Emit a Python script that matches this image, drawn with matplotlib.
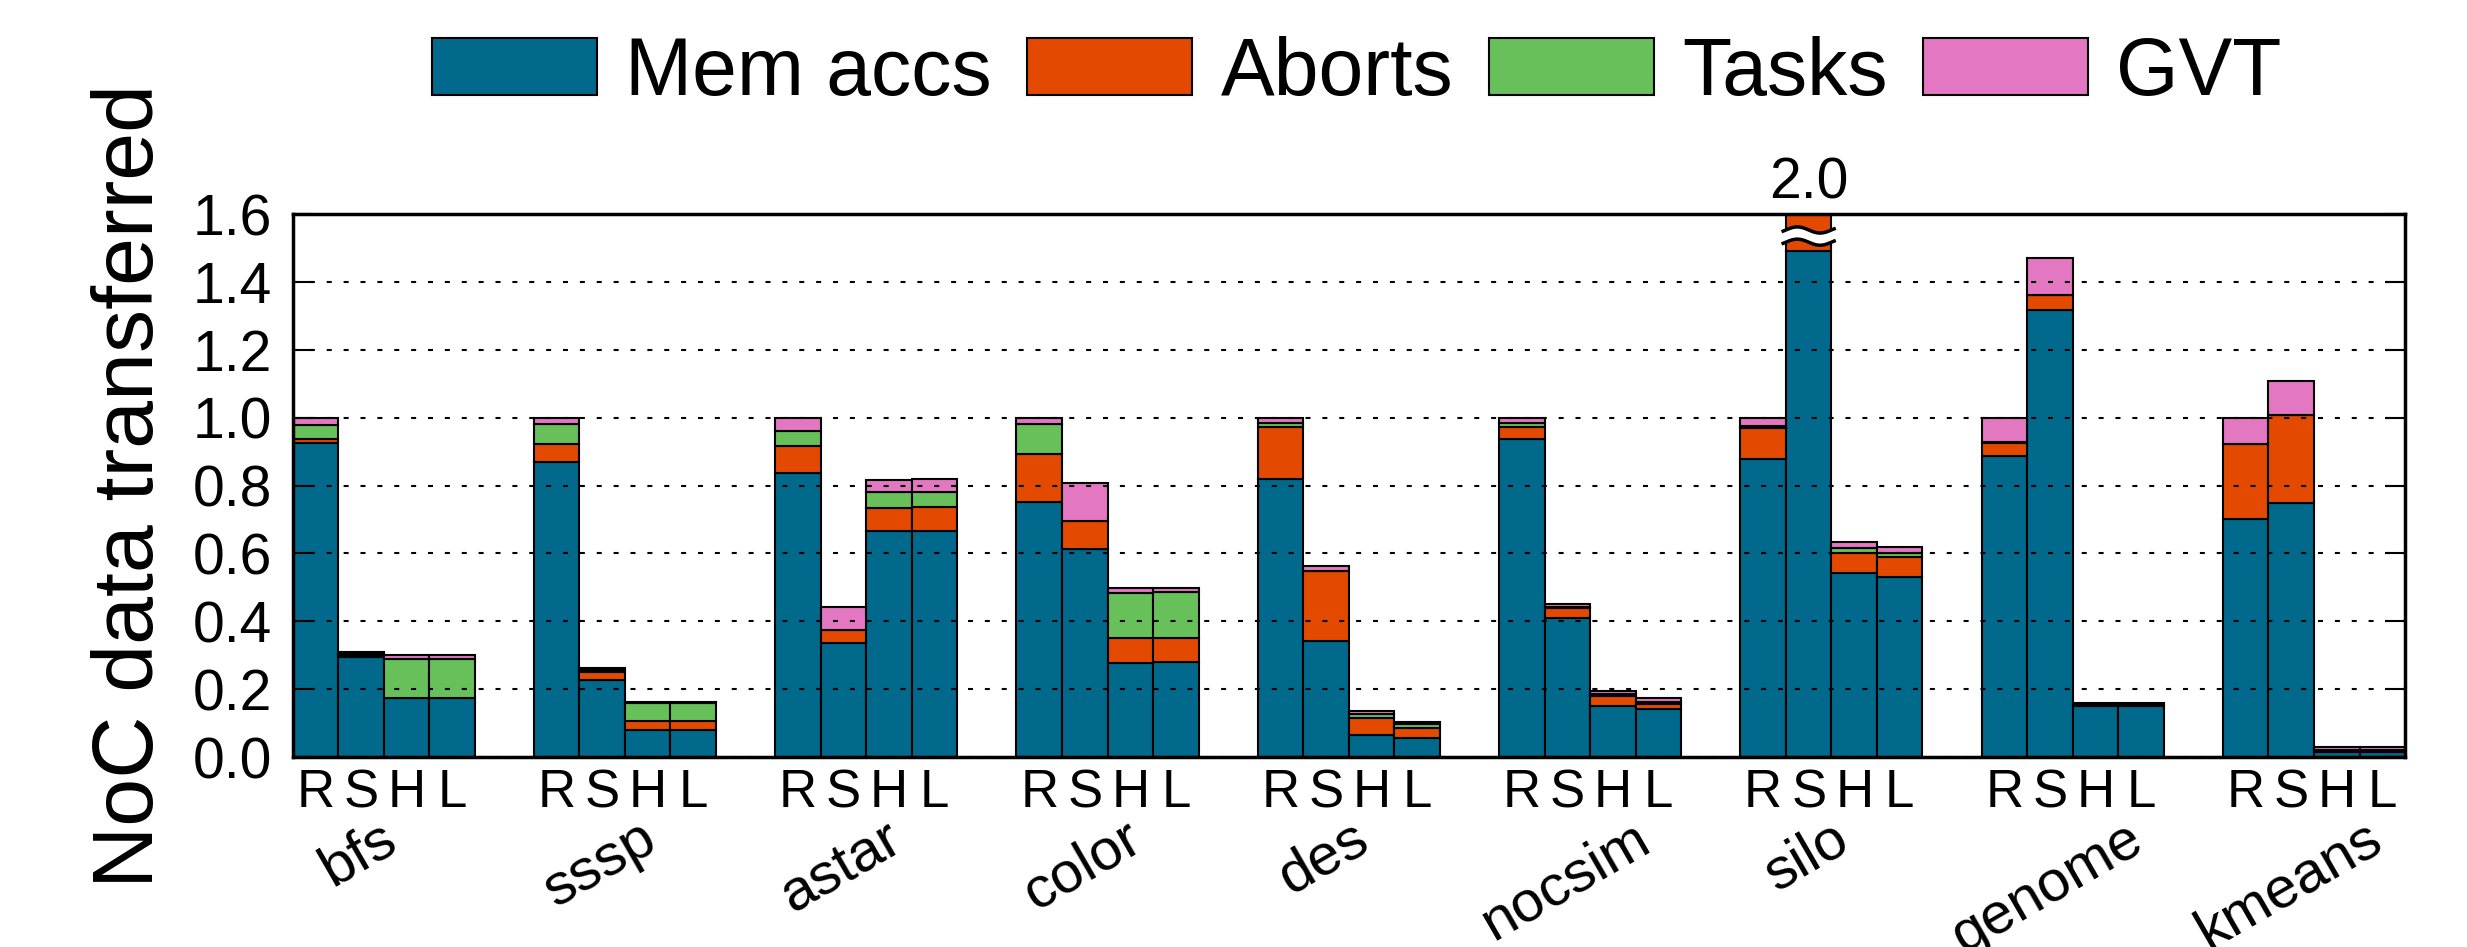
import numpy as np
import matplotlib
matplotlib.use('Agg')
import matplotlib.pyplot as plt
from matplotlib.transforms import blended_transform_factory

plt.rcParams['font.family'] = ['Liberation Sans', 'DejaVu Sans']

# Benchmarks and the four configurations shown under each group
benchmarks = ['bfs', 'sssp', 'astar', 'color', 'des', 'nocsim', 'silo', 'genome', 'kmeans']
configs = ['R', 'S', 'H', 'L']

# Values per benchmark, in R, S, H, L order
mem_accs = [
    [0.925, 0.294, 0.173, 0.173],
    [0.869, 0.227, 0.081, 0.081],
    [0.837, 0.336, 0.666, 0.666],
    [0.750, 0.614, 0.277, 0.280],
    [0.819, 0.341, 0.066, 0.057],
    [0.937, 0.411, 0.149, 0.142],
    [0.879, 1.490, 0.541, 0.531],
    [0.888, 1.316, 0.150, 0.150],
    [0.702, 0.749, 0.015, 0.015],
]
aborts = [
    [0.012, 0.006, 0.002, 0.002],
    [0.053, 0.025, 0.026, 0.026],
    [0.079, 0.037, 0.069, 0.071],
    [0.142, 0.082, 0.073, 0.070],
    [0.153, 0.206, 0.048, 0.028],
    [0.034, 0.028, 0.030, 0.015],
    [0.090, 0.510, 0.060, 0.058],
    [0.037, 0.045, 0.005, 0.005],
    [0.219, 0.259, 0.004, 0.004],
]
tasks = [
    [0.040, 0.003, 0.114, 0.114],
    [0.060, 0.003, 0.052, 0.052],
    [0.045, 0.000, 0.045, 0.045],
    [0.090, 0.000, 0.134, 0.135],
    [0.012, 0.002, 0.014, 0.011],
    [0.013, 0.003, 0.006, 0.005],
    [0.007, 0.000, 0.016, 0.012],
    [0.004, 0.000, 0.002, 0.002],
    [0.000, 0.000, 0.002, 0.002],
]
gvt = [
    [0.023, 0.007, 0.013, 0.013],
    [0.018, 0.006, 0.003, 0.003],
    [0.039, 0.070, 0.035, 0.038],
    [0.018, 0.111, 0.013, 0.014],
    [0.016, 0.014, 0.008, 0.006],
    [0.016, 0.008, 0.010, 0.011],
    [0.023, 0.000, 0.017, 0.017],
    [0.071, 0.110, 0.003, 0.003],
    [0.078, 0.101, 0.008, 0.008],
]

series_names = ['Mem accs', 'Aborts', 'Tasks', 'GVT']
colors = ['#00698c', '#e34a00', '#68c05a', '#e377c2']

YMAX = 1.6
GROUP_PITCH = 5.3


def add_break(ax, x0, width):
    # wavy "axis break" drawn across a bar that goes past the top of the plot
    xs = np.linspace(x0 - 0.06, x0 + width + 0.06, 60)
    wave = 0.009 * np.sin((xs - x0) / width * 2 * np.pi)
    low = 1.517 + wave
    high = 1.553 + wave
    ax.fill_between(xs, low, high, color='white', zorder=4, clip_on=False)
    ax.plot(xs, low, color='black', lw=2.5, zorder=5, clip_on=False)
    ax.plot(xs, high, color='black', lw=2.5, zorder=5, clip_on=False)


def create_chart():
    fig = plt.figure(figsize=(24.67, 9.47), dpi=100)
    ax = fig.add_axes([0.1186, 0.2006, 0.8563, 0.5734])

    n = len(benchmarks)
    x = np.array([g * GROUP_PITCH + j for g in range(n) for j in range(len(configs))], dtype=float)

    bottom = np.zeros(len(x))
    handles = []
    for name, vals, color in zip(series_names, [mem_accs, aborts, tasks, gvt], colors):
        v = np.array(vals, dtype=float).ravel()
        h = ax.bar(x, v, width=1.0, bottom=bottom, align='edge', color=color,
                   edgecolor='black', linewidth=1.5, label=name)
        handles.append(h)
        bottom += v

    # bars that overflow the y range: break mark + total value
    for i in np.where(bottom > YMAX)[0]:
        add_break(ax, x[i], 1.0)
        ax.annotate(f'{bottom[i]:.1f}', xy=(x[i] + 0.5, YMAX), xytext=(0, 11.5),
                    textcoords='offset points', ha='center', va='baseline',
                    fontsize=41, annotation_clip=False)

    ax.set_xlim(0, (n - 1) * GROUP_PITCH + len(configs))
    ax.set_ylim(0, YMAX)
    ax.set_yticks(np.arange(0, YMAX + 0.01, 0.2))
    ax.set_yticklabels([f'{t:.1f}' for t in np.arange(0, YMAX + 0.01, 0.2)])

    ax.set_xticks(x + 0.5)
    ax.set_xticklabels(configs * n)
    ax.tick_params(axis='x', length=0, labelsize=38, pad=8)
    ax.tick_params(axis='y', direction='in', length=14.4, width=1.5,
                   right=True, labelsize=41, pad=15)

    ax.yaxis.grid(True, color='black', linestyle=(0, (2.4, 5.7)), linewidth=1.5)
    ax.set_axisbelow(False)
    for spine in ax.spines.values():
        spine.set_linewidth(2.5)

    # benchmark names under each group
    trans = blended_transform_factory(ax.transData, ax.transAxes)
    for g, name in enumerate(benchmarks):
        ax.text(g * GROUP_PITCH + 2 - 0.55, -0.1, name, transform=trans,
                rotation=30, ha='center', va='top', fontsize=42)

    ax.set_ylabel('NoC data transferred', fontsize=62)
    ax.yaxis.set_label_coords(-0.0576, 0.5)

    fig.legend(handles=handles, loc='center', bbox_to_anchor=(0.55, 0.922),
               ncol=4, frameon=False, fontsize=58, handlelength=2.05,
               handleheight=0.72, handletextpad=0.35, columnspacing=0.44,
               borderpad=0, borderaxespad=0)

    fig.savefig('out.png', dpi=100)
    plt.close(fig)


def main():
    create_chart()


if __name__ == "__main__":
    main()
